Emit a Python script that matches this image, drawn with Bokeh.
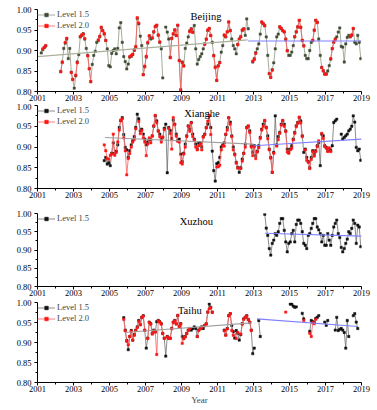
import numpy as np
from bokeh.plotting import figure
from bokeh.layouts import column
from bokeh.models import FixedTicker, PrintfTickFormatter, Label
from bokeh.embed import file_html
from bokeh.resources import INLINE

FONT = "Liberation Serif"

# ---------------- data (monthly values, one row per year, None = no data) ----------------
bj_first_year = 2001
bj_l15 = [
    [None, None, 0.894, 0.902, 0.907, 0.911, None, None, None, None, None, None],
    [None, None, None, 0.849, 0.871, 0.905, 0.918, 0.928, 0.880, 0.905, 0.847, 0.830],
    [0.808, 0.838, 0.872, 0.890, 0.933, 0.937, 0.941, 0.928, 0.905, 0.888, 0.855, 0.824],
    [0.866, 0.888, 0.898, 0.920, 0.924, 0.933, 0.955, 0.949, 0.940, 0.925, 0.904, 0.863],
    [0.860, 0.893, 0.900, 0.904, 0.892, 0.905, 0.955, 0.968, 0.920, 0.885, 0.873, 0.855],
    [0.867, 0.884, 0.886, 0.890, 0.900, 0.908, 0.978, 0.965, 0.935, 0.912, 0.841, 0.860],
    [0.884, 0.918, 0.935, 0.928, 0.930, 0.945, 0.958, 0.961, 0.937, 0.920, 0.904, 0.833],
    [None, 0.957, 0.945, 0.928, 0.884, 0.930, 0.940, 0.950, 0.937, 0.961, 0.876, 0.805],
    [0.872, 0.863, 0.905, 0.918, 0.933, 0.948, 0.953, 0.945, 0.961, 0.904, 0.867, 0.878],
    [0.885, 0.892, 0.904, 0.916, 0.928, 0.949, 0.953, 0.937, 0.920, 0.888, 0.860, 0.827],
    [0.863, 0.871, 0.896, 0.912, 0.937, 0.933, 0.945, 0.969, 0.949, 0.928, 0.912, 0.904],
    [0.892, 0.915, 0.928, 0.933, 0.949, 0.953, 0.937, 0.977, 0.953, None, None, 0.872],
    [0.880, 0.895, 0.904, 0.916, 0.940, 0.969, 0.965, 0.961, 0.933, 0.888, 0.843, 0.835],
    [0.853, 0.870, 0.904, 0.933, 0.940, 0.957, 0.953, 0.949, 0.945, 0.928, 0.900, 0.888],
    [0.888, 0.896, 0.912, 0.933, 0.945, 0.957, 0.973, 0.957, 0.924, 0.912, 0.888, 0.880],
    [0.880, 0.900, 0.920, 0.924, 0.949, 0.973, 0.969, 0.928, 0.888, 0.859, 0.851, 0.843],
    [0.843, 0.850, 0.863, 0.879, 0.904, 0.920, 0.928, 0.933, 0.945, 0.955, 0.910, 0.908],
    [0.872, 0.916, 0.932, 0.937, 0.933, 0.937, 0.953, 0.920, 0.916, 0.937, 0.920, 0.880],
]
bj_l20 = [
    [None, None, None, 0.904, 0.908, 0.912, None, None, None, None, None, None],
    [None, None, None, 0.848, 0.872, None, 0.920, 0.930, None, None, 0.846, 0.829],
    [None, 0.840, 0.870, None, 0.934, 0.938, 0.940, 0.929, None, 0.887, 0.856, 0.824],
    [None, None, None, None, 0.926, 0.935, 0.957, 0.948, 0.942, 0.924, None, None],
    [None, None, None, None, None, None, None, None, None, None, None, None],
    [None, 0.885, 0.888, 0.891, 0.902, 0.910, 0.980, 0.967, None, None, 0.841, 0.862],
    [0.886, 0.920, 0.936, None, 0.931, 0.946, 0.959, 0.962, 0.938, 0.921, None, None],
    [None, None, None, None, 0.882, 0.929, 0.941, 0.950, 0.936, 0.962, 0.875, 0.802],
    [0.870, 0.862, None, None, None, 0.946, 0.952, 0.944, None, None, None, None],
    [None, None, None, 0.915, 0.927, 0.950, 0.954, 0.936, None, 0.887, 0.858, 0.827],
    [0.862, 0.870, None, None, 0.938, 0.934, 0.946, 0.970, 0.948, None, None, None],
    [None, 0.914, 0.927, 0.934, 0.950, 0.952, None, None, None, None, None, 0.874],
    [0.878, 0.893, None, None, None, 0.970, 0.966, 0.960, None, None, 0.844, 0.834],
    [0.852, None, None, None, None, 0.958, 0.954, 0.948, 0.946, 0.927, 0.899, None],
    [None, None, None, 0.934, 0.946, 0.958, 0.974, 0.956, 0.925, 0.911, None, None],
    [None, None, None, 0.925, 0.950, 0.974, 0.968, None, None, 0.858, 0.850, 0.842],
    [0.842, None, None, 0.880, 0.905, 0.921, 0.927, None, None, None, None, None],
    [None, None, None, None, 0.934, 0.938, 0.954, None, None, None, None, None],
]
bj_trend_early_x = [2001.0, 2012.67]
bj_trend_early_y = [0.885, 0.926]
bj_trend_late_x = [2012.7, 2019.0]
bj_trend_late_y = [0.923, 0.923]

xh_first_year = 2004
xh_l15 = [
    [None, None, None, None, None, None, None, None, 0.867, 0.875, 0.859, 0.862],
    [0.855, 0.885, 0.910, 0.885, 0.890, 0.905, 0.947, 0.963, 0.971, 0.930, 0.899, 0.893],
    [0.875, 0.891, 0.905, 0.915, 0.925, 0.947, 0.979, 0.968, 0.939, 0.943, 0.931, 0.919],
    [0.905, 0.912, 0.918, 0.917, 0.927, 0.950, 0.975, 0.963, 0.939, 0.931, 0.919, 0.923],
    [0.945, 0.955, 0.838, 0.947, 0.940, 0.920, 0.965, 0.955, 0.931, 0.915, 0.919, 0.883],
    [0.865, 0.885, 0.907, 0.927, 0.951, 0.943, 0.959, 0.931, 0.919, 0.907, 0.895, 0.910],
    [0.910, 0.900, 0.925, 0.931, 0.947, 0.955, 0.975, 0.947, 0.890, 0.843, 0.818, 0.860],
    [0.862, 0.875, 0.900, 0.905, 0.910, 0.930, 0.947, 0.970, 0.960, 0.927, 0.900, 0.883],
    [0.863, 0.851, 0.839, 0.850, 0.871, 0.885, 0.907, 0.947, 0.950, 0.939, 0.903, 0.887],
    [0.903, 0.879, 0.890, 0.903, 0.923, 0.943, 0.955, 0.963, 0.947, 0.927, 0.895, 0.875],
    [0.839, 0.887, 0.975, 0.905, 0.925, 0.935, 0.955, 0.963, 0.955, 0.939, 0.895, 0.887],
    [0.895, 0.903, 0.919, 0.935, 0.951, 0.959, 0.971, 0.963, 0.927, 0.887, 0.895, 0.875],
    [0.865, 0.850, 0.875, 0.891, 0.883, 0.891, 0.903, 0.911, 0.855, 0.931, 0.927, 0.903],
    [0.899, 0.891, 0.895, 0.891, 0.903, 0.959, 0.963, 0.967, None, None, 0.931, 0.919],
    [0.923, 0.927, 0.931, 0.939, 0.943, 0.950, 0.975, 0.960, 0.899, 0.891, 0.895, 0.868],
]
xh_l20 = [
    [None, None, None, None, None, None, None, None, 0.905, 0.891, 0.872, 0.870],
    [0.880, 0.883, 0.931, 0.880, 0.887, 0.912, 0.941, 0.965, 0.968, 0.922, 0.891, 0.833],
    [0.872, 0.884, 0.900, 0.912, 0.918, 0.944, None, 0.962, 0.932, 0.940, 0.922, 0.912],
    [0.879, 0.907, 0.922, 0.910, 0.926, 0.951, 0.976, 0.958, 0.938, 0.925, 0.912, 0.924],
    [0.942, None, None, 0.945, 0.933, 0.895, 0.971, 0.954, 0.926, 0.914, 0.912, 0.862],
    [0.859, 0.883, 0.900, 0.925, 0.950, 0.938, 0.958, 0.925, 0.917, 0.900, 0.893, 0.903],
    [0.907, 0.893, 0.924, 0.930, 0.946, 0.962, 0.976, 0.930, None, None, None, 0.852],
    [0.852, 0.856, 0.893, 0.903, 0.902, 0.931, 0.941, 0.971, 0.955, 0.925, 0.893, 0.881],
    [0.861, 0.849, None, 0.848, 0.866, 0.884, 0.900, 0.946, 0.951, 0.935, 0.900, 0.879],
    [0.901, 0.872, 0.888, 0.898, 0.921, 0.941, 0.950, 0.964, 0.946, 0.920, 0.893, 0.873],
    [0.839, 0.885, None, 0.902, 0.918, 0.933, 0.953, 0.964, 0.950, 0.937, 0.888, 0.885],
    [0.893, 0.897, 0.917, 0.933, 0.949, 0.957, 0.972, 0.958, 0.925, None, 0.893, 0.868],
    [0.863, 0.848, 0.870, 0.889, 0.878, 0.889, 0.901, 0.915, None, 0.933, 0.921, 0.901],
    [0.897, 0.889, 0.898, 0.889, None, None, None, None, None, None, None, None],
    [None, None, None, None, None, None, None, None, None, None, None, None],
]
xh_trend_early_x = [2004.75, 2013.0]
xh_trend_early_y = [0.923, 0.907]
xh_trend_late_x = [2013.0, 2019.0]
xh_trend_late_y = [0.903, 0.919]

xz_first_year = 2013
xz_l15 = [
    [None, None, None, None, None, None, None, 0.998, 0.960, 0.940, 0.904, 0.886],
    [0.918, 0.927, 0.945, 0.940, 0.950, 0.973, 0.986, 0.986, 0.954, 0.922, 0.895, 0.918],
    [0.922, 0.945, 0.954, 0.922, 0.970, 0.982, 0.982, 0.973, 0.950, 0.918, 0.913, 0.904],
    [0.940, 0.945, 0.959, 0.973, 0.986, 0.986, 0.963, 0.955, 0.945, 0.922, 0.940, 0.913],
    [0.913, 0.945, 0.927, 0.913, 0.940, 0.963, 0.973, 0.982, 0.945, 0.934, 0.907, 0.895],
    [0.904, 0.918, 0.930, 0.950, 0.945, 0.959, 0.982, 0.973, 0.918, 0.968, 0.963, 0.909],
]
xz_trend_x = [2013.63, 2019.0]
xz_trend_y = [0.946, 0.938]

th_first_year = 2005
th_l15 = [
    [None, None, None, None, None, None, None, None, None, 0.962, 0.931, 0.905],
    [0.882, 0.915, 0.930, 0.906, 0.920, 0.931, 0.939, 0.955, 0.945, 0.963, 0.967, 0.931],
    [0.886, 0.911, 0.951, 0.947, 0.923, 0.931, 0.927, 0.952, 0.955, 0.952, 0.947, 0.923],
    [0.911, 0.866, 0.915, 0.911, 0.911, 0.935, 0.951, 0.955, 0.947, 0.967, 0.940, 0.947],
    [0.915, 0.910, 0.915, 0.923, 0.931, 0.935, 0.931, 0.935, 0.939, 0.935, 0.915, 0.931],
    [0.935, 0.939, 0.935, 0.943, 0.947, 0.976, 0.996, 0.988, 0.976, None, None, None],
    [None, None, None, None, 0.931, 0.919, 0.935, 0.967, 0.972, 0.943, 0.927, 0.911],
    [0.930, 0.923, 0.906, 0.920, 0.947, 0.959, 0.963, 0.967, 0.958, 0.951, 0.931, 0.872],
    [0.886, None, None, 0.955, 0.915, None, None, None, None, None, None, None],
    [None, None, None, None, None, None, None, None, None, None, None, None],
    [0.996, 0.996, 0.991, 0.988, 0.989, None, None, None, 0.973, 0.959, None, None],
    [None, 0.928, 0.955, 0.952, 0.950, 0.960, 0.963, 0.967, None, None, None, 0.951],
    [0.943, 0.955, None, None, None, None, 0.931, 0.963, 0.930, 0.933, 0.935, 0.931],
    [0.925, 0.886, 0.955, 0.915, None, None, 0.967, 0.972, 0.951, 0.935, None, None],
]
th_l20 = [
    [None, None, None, None, None, None, None, None, None, 0.958, 0.929, 0.903],
    [0.894, 0.915, 0.928, 0.906, 0.918, 0.930, 0.937, 0.953, 0.944, 0.962, 0.966, 0.930],
    [None, 0.910, 0.950, 0.946, 0.921, 0.929, 0.926, 0.870, 0.954, 0.951, 0.946, 0.922],
    [0.910, None, 0.914, 0.910, 0.910, 0.934, 0.950, 0.954, 0.946, 0.968, 0.939, 0.946],
    [0.898, 0.910, 0.914, 0.922, 0.930, 0.934, None, None, None, None, 0.915, 0.930],
    [0.934, 0.938, None, 0.942, 0.946, 0.976, 0.984, 0.987, 0.975, None, None, None],
    [None, None, None, None, 0.929, 0.918, 0.934, 0.967, 0.972, 0.930, 0.918, None],
    [0.910, 0.925, None, 0.921, 0.946, 0.958, 0.963, 0.966, 0.957, 0.950, 0.930, None],
    [None, None, None, None, None, None, None, None, None, None, None, None],
    [None, None, None, None, None, None, None, None, None, 0.976, None, None],
    [None, None, None, None, None, None, None, None, None, 0.955, None, None],
    [None, 0.923, 0.915, 0.950, 0.947, 0.958, None, None, None, None, None, None],
    [None, None, None, None, None, None, None, None, None, None, None, None],
    [None, None, None, None, None, None, None, None, None, None, None, None],
]
th_trend_early_x = [2005.85, 2012.9]
th_trend_early_y = [0.925, 0.949]
th_trend_late_x = [2013.2, 2018.8]
th_trend_late_y = [0.959, 0.940]

x_major = [2001, 2003, 2005, 2007, 2009, 2011, 2013, 2015, 2017, 2019]
x_minor = [2002, 2004, 2006, 2008, 2010, 2012, 2014, 2016, 2018]
y_major = [0.80, 0.85, 0.90, 0.95, 1.00]
y_minor = [0.825, 0.875, 0.925, 0.975]

# ---------------- styles ----------------
BJ_L15_LINE, BJ_L15_MARK = "#8e9680", "#3f4b33"
L15_LINE, L15_MARK = "#6e6e6e", "#111111"
L20_LINE, L20_MARK = "#ff5c5c", "#ff1414"
TREND_GRAY, BJ_TREND_GRAY, TREND_BLUE = "#a0a0a0", "#aab09c", "#8080ff"


def monthly(first_year, rows):
    xs, ys = [], []
    for k, row in enumerate(rows):
        for m, v in enumerate(row):
            xs.append(first_year + k + (m + 0.5) / 12.0)
            ys.append(np.nan if v is None else v)
    return np.array(xs), np.array(ys, dtype=float)


def panel(frame_h, top, name, name_x, name_y, first_year, l15, l20,
          trends, l15_line, l15_mark, year_label=False):
    p = figure(frame_width=324, frame_height=frame_h, x_range=(2001, 2019),
               y_range=(0.80, 1.00), output_backend="svg", toolbar_location=None,
               min_border_left=37, min_border_right=14, min_border_top=top,
               min_border_bottom=0)
    p.outline_line_color = None
    p.xgrid.visible = False
    p.ygrid.visible = False
    p.background_fill_color = "white"

    p.xaxis.ticker = FixedTicker(ticks=x_major, minor_ticks=x_minor)
    p.yaxis.ticker = FixedTicker(ticks=y_major, minor_ticks=y_minor)
    p.yaxis.formatter = PrintfTickFormatter(format="%.2f")
    for ax in (p.xaxis, p.yaxis):
        ax.axis_line_color = "black"
        ax.axis_line_width = 1
        ax.major_tick_line_color = "black"
        ax.minor_tick_line_color = "black"
        ax.major_tick_in = 0
        ax.major_tick_out = 3
        ax.minor_tick_in = 0
        ax.minor_tick_out = 2
        ax.major_label_text_font = FONT
        ax.major_label_text_font_size = "8.5px"
        ax.major_label_text_color = "black"
    p.xaxis.major_label_standoff = 0
    p.yaxis.major_label_standoff = 3
    if year_label:
        p.xaxis.axis_label = "Year"
        p.xaxis.axis_label_text_font = FONT
        p.xaxis.axis_label_text_font_size = "9px"
        p.xaxis.axis_label_text_font_style = "normal"
        p.xaxis.axis_label_standoff = 0

    x15, y15 = monthly(first_year, l15)
    p.line(x15, y15, line_color=l15_line, line_width=0.8, legend_label="Level 1.5")
    p.scatter(x15, y15, marker="square", size=2.3, fill_color=l15_mark,
              line_color=l15_mark, line_width=0.5, legend_label="Level 1.5")
    if l20 is not None:
        x20, y20 = monthly(first_year, l20)
        p.line(x20, y20, line_color=L20_LINE, line_width=0.8, legend_label="Level 2.0")
        p.scatter(x20, y20, marker="square", size=2.3, fill_color=L20_MARK,
                  line_color=L20_MARK, line_width=0.5, legend_label="Level 2.0")

    for tx, ty, col in trends:
        p.line(tx, ty, line_color=col, line_width=1.1)

    lg = p.legend[0]
    lg.location = "top_left"
    lg.margin = 0
    lg.padding = 0
    lg.spacing = 1
    lg.glyph_width = 18
    lg.glyph_height = 9
    lg.label_height = 9
    lg.label_standoff = 2
    lg.label_text_font = FONT
    lg.label_text_font_size = "8.5px"
    lg.background_fill_alpha = 0
    lg.border_line_alpha = 0

    p.add_layout(Label(x=name_x, y=name_y, text=name, text_font=FONT,
                       text_font_size="10.5px", text_baseline="alphabetic",
                       text_align="left", text_color="black"))
    p.add_layout(Label(x=-28, y=0.90, x_units="screen", y_units="data",
                       text="Single Scattering Albedo", angle=np.pi / 2,
                       text_align="center", text_baseline="middle",
                       text_font=FONT, text_font_size="9px", text_color="black"))
    return p


p1 = panel(82, 9, "Beijing", 2009.5, 0.983, bj_first_year, bj_l15, bj_l20,
           [(bj_trend_early_x, bj_trend_early_y, BJ_TREND_GRAY),
            (bj_trend_late_x, bj_trend_late_y, TREND_BLUE)],
           BJ_L15_LINE, BJ_L15_MARK)
p2 = panel(83, 2, "Xianghe", 2009.15, 0.981, xh_first_year, xh_l15, xh_l20,
           [(xh_trend_early_x, xh_trend_early_y, TREND_GRAY),
            (xh_trend_late_x, xh_trend_late_y, TREND_BLUE)],
           L15_LINE, L15_MARK)
p3 = panel(73, 13, "Xuzhou", 2008.9, 0.979, xz_first_year, xz_l15, None,
           [(xz_trend_x, xz_trend_y, TREND_BLUE)],
           L15_LINE, L15_MARK)
p4 = panel(80, 4, "Taihu", 2008.8, 0.979, th_first_year, th_l15, th_l20,
           [(th_trend_early_x, th_trend_early_y, TREND_GRAY),
            (th_trend_late_x, th_trend_late_y, TREND_BLUE)],
           L15_LINE, L15_MARK, year_label=True)

layout = column(p1, p2, p3, p4, spacing=0)
open("out.html", "w").write(file_html(layout, INLINE))
